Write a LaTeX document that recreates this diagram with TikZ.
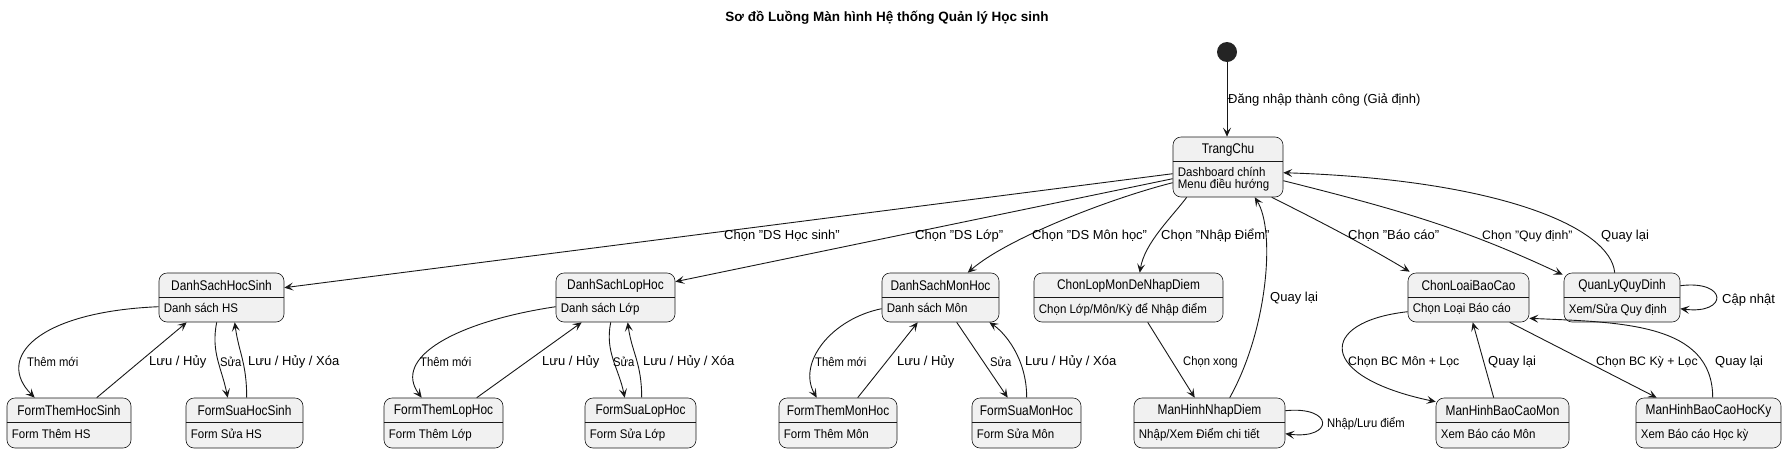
\documentclass[tikz,border=0pt]{standalone}
\usepackage{fontspec}
\setmainfont{Liberation Sans}
\usetikzlibrary{arrows.meta,calc}
\definecolor{stfill}{HTML}{F1F1F1}
\definecolor{stline}{HTML}{181818}
\tikzset{
  stbox/.style={draw=stline, line width=0.6pt, fill=stfill, rounded corners=8pt, inner sep=0pt},
  sepl/.style={draw=stline, line width=0.6pt},
  sttitle/.style={inner sep=0pt, font=\fontsize{14}{16}\selectfont},
  stbody/.style={inner sep=0pt, anchor=west, align=left, font=\fontsize{12.5}{13.4}\selectfont},
  conn/.style={draw=stline, line width=0.9pt, -{Stealth[length=9pt,width=8pt,inset=4pt]}},
  lbl/.style={inner sep=0pt, anchor=west, font=\fontsize{13}{15}\selectfont},
  lblm/.style={inner sep=0pt, anchor=west, font=\fontsize{12.3}{14}\selectfont},
  lbls/.style={inner sep=0pt, anchor=west, font=\fontsize{12.5}{14}\selectfont},
}
\newcommand{\mkstate}[7]{%
  \node[stbox, minimum width=#4pt, minimum height=#5pt] (#1) at (#2,#3) {};
  \draw[sepl] ($(#1.north west)+(0,25)$) -- ($(#1.north east)+(0,25)$);
  \node[sttitle] (#1-t) at ($(#1.north)+(0,13)$) {\scalebox{0.85}[1]{#6}};
  \node[stbody] (#1-b) at ($(#1.south west)+(5,{-(#5-25)/2})$) {\scalebox{0.92}[1]{\begin{tabular}{@{}l@{}}#7\end{tabular}}};
}
\newcommand{\cnd}[1]{\scalebox{0.9}[1]{#1}}
\begin{document}
\begin{tikzpicture}[x=1pt,y=-1pt]
\useasboundingbox (0,0) rectangle (1788,453);
\node[inner sep=0pt, font=\bfseries\fontsize{13.5}{15}\selectfont] (title) at (887,18) {Sơ đồ Luồng Màn hình Hệ thống Quản lý Học sinh};
\node[circle, fill=stline!95, minimum size=20pt, inner sep=0pt] (start) at (1227,52) {};
\mkstate{TC}{1228}{167}{110}{60}{TrangChu}{Dashboard chính\\[-1.2pt]Menu điều hướng}
\mkstate{DSHS}{221.5}{297.5}{125}{49}{DanhSachHocSinh}{Danh sách HS}
\mkstate{DSLH}{615.5}{297.5}{119}{49}{DanhSachLopHoc}{Danh sách Lớp}
\mkstate{DSMH}{940.5}{297.5}{117}{49}{DanhSachMonHoc}{Danh sách Môn}
\mkstate{CLMD}{1128.5}{297.5}{189}{49}{ChonLopMonDeNhapDiem}{Chọn Lớp/Môn/Kỳ để Nhập điểm}
\mkstate{CLBC}{1468.5}{297.5}{121}{49}{ChonLoaiBaoCao}{Chọn Loại Báo cáo}
\mkstate{QLQD}{1622}{297.5}{116}{49}{QuanLyQuyDinh}{Xem/Sửa Quy định}
\mkstate{FTHS}{69}{423}{124}{50}{FormThemHocSinh}{Form Thêm HS}
\mkstate{FSHS}{244.5}{423}{117}{50}{FormSuaHocSinh}{Form Sửa HS}
\mkstate{FTLH}{443.5}{423}{119}{50}{FormThemLopHoc}{Form Thêm Lớp}
\mkstate{FSLH}{640.5}{423}{111}{50}{FormSuaLopHoc}{Form Sửa Lớp}
\mkstate{FTMH}{838}{423}{118}{50}{FormThemMonHoc}{Form Thêm Môn}
\mkstate{FSMH}{1026.5}{423}{109}{50}{FormSuaMonHoc}{Form Sửa Môn}
\mkstate{MHND}{1209.5}{423}{151}{50}{ManHinhNhapDiem}{Nhập/Xem Điểm chi tiết}
\mkstate{MHBCM}{1502.5}{423}{133}{50}{ManHinhBaoCaoMon}{Xem Báo cáo Môn}
\mkstate{MHBCHK}{1708.5}{423}{145}{50}{ManHinhBaoCaoHocKy}{Xem Báo cáo Học kỳ}

% start
\draw[conn] (start) -- (start |- TC.north);
\node[lbl] (l0) at (1228,100) {Đăng nhập thành công (Giả định)};

% from TrangChu
\draw[conn] ($(TC.north west)+(0,37)$) -- ($(DSHS.north east)+(0,15)$);
\draw[conn] ($(TC.north west)+(0,42)$) -- ($(DSLH.north east)+(0,9)$);
\draw[conn] ($(TC.north west)+(0,46)$) .. controls ($(TC.north west)+(-60,61)$) and ($(DSMH.north west)+(126,-35)$) .. ($(DSMH.north west)+(86,0)$);
\draw[conn] ($(TC.south west)+(14,0)$) .. controls ($(TC.south west)+(-1,20)$) and ($(CLMD.north west)+(111,-30)$) .. ($(CLMD.north west)+(106,0)$);
\draw[conn] ($(TC.south west)+(99,0)$) .. controls ($(TC.south west)+(139,20)$) and ($(CLBC.north west)+(-48,-31)$) .. ($(CLBC.north west)+(2,-1)$);
\draw[conn] ($(TC.north east)+(0,44)$) .. controls ($(TC.north east)+(120,74)$) and ($(QLQD.north west)+(-97,-43)$) .. ($(QLQD.north west)+(-1,2)$);
\draw[conn] ($(QLQD.north west)+(51,0)$) .. controls ($(QLQD.north west)+(47,-45)$) and ($(TC.north east)+(217,43)$) .. ($(TC.north east)+(0,36)$);
\node[lbl] (l1) at (724,236) {Chọn "DS Học sinh"};
\node[lbl] (l2) at (915,236) {Chọn "DS Lớp"};
\node[lbl] (l3) at (1032,236) {Chọn "DS Môn học"};
\node[lbl] (l4) at (1161,236) {Chọn "Nhập Điểm"};
\node[lbl] (l5) at (1348,236) {Chọn "Báo cáo"};
\node[lblm] (l6) at (1482,236) {Chọn "Quy định"};
\node[lbl] (l7) at (1601,236) {Quay lại};

% Hoc sinh group
\draw[conn] ($(DSHS.north west)+(0,34)$) .. controls ($(DSHS.north west)+(-121,39)$) and ($(FTHS.north west)+(-12,-40)$) .. ($(FTHS.north west)+(28,0)$);
\draw[conn] ($(FTHS.north west)+(90,0)$) -- ($(DSHS.south west)+(28,0)$);
\draw[conn] ($(DSHS.south west)+(58,0)$) .. controls ($(DSHS.south west)+(52,30)$) and ($(FSHS.north west)+(36,-30)$) .. ($(FSHS.north west)+(42,0)$);
\draw[conn] ($(FSHS.north west)+(61,0)$) .. controls ($(FSHS.north west)+(61,-35)$) and ($(DSHS.south west)+(80,30)$) .. ($(DSHS.south west)+(76,0)$);
\node[lbls] (l8) at (27,362) {\cnd{Thêm mới}};
\node[lbl] (l9) at (149,362) {Lưu / Hủy};
\node[lbls] (l10) at (220,362) {\cnd{Sửa}};
\node[lbl] (l11) at (248,362) {Lưu / Hủy / Xóa};

% Lop hoc group
\draw[conn] ($(DSLH.north west)+(0,34)$) .. controls ($(DSLH.north west)+(-100,49)$) and ($(FTLH.north west)+(8,-40)$) .. ($(FTLH.north west)+(38,0)$);
\draw[conn] ($(FTLH.north west)+(93,0)$) -- ($(DSLH.south west)+(26,0)$);
\draw[conn] ($(DSLH.south west)+(55,0)$) .. controls ($(DSLH.south west)+(49,30)$) and ($(FSLH.north west)+(34,-30)$) .. ($(FSLH.north west)+(40,0)$);
\draw[conn] ($(FSLH.north west)+(57,0)$) .. controls ($(FSLH.north west)+(57,-35)$) and ($(DSLH.south west)+(76,30)$) .. ($(DSLH.south west)+(72,0)$);
\node[lbls] (l12) at (420,362) {\cnd{Thêm mới}};
\node[lbl] (l13) at (542,362) {Lưu / Hủy};
\node[lbls] (l14) at (613,362) {\cnd{Sửa}};
\node[lbl] (l15) at (643,362) {Lưu / Hủy / Xóa};

% Mon hoc group
\draw[conn] ($(DSMH.north west)+(0,36)$) .. controls ($(DSMH.north west)+(-50,46)$) and ($(FTMH.north west)+(18,-35)$) .. ($(FTMH.north west)+(38,0)$);
\draw[conn] ($(FTMH.north west)+(79,0)$) -- ($(DSMH.south west)+(36,0)$);
\draw[conn] ($(DSMH.south west)+(75,0)$) -- ($(FSMH.north west)+(36,0)$);
\draw[conn] ($(FSMH.north west)+(55,0)$) .. controls ($(FSMH.north west)+(55,-40)$) and ($(DSMH.south east)+(5,10)$) .. ($(DSMH.south east)+(-10,0)$);
\node[lbls] (l16) at (815,362) {\cnd{Thêm mới}};
\node[lbl] (l17) at (897,362) {Lưu / Hủy};
\node[lbls] (l18) at (990,362) {\cnd{Sửa}};
\node[lbl] (l19) at (1025,362) {Lưu / Hủy / Xóa};

% Nhap diem
\draw[conn] ($(CLMD.south west)+(114,0)$) -- ($(MHND.north west)+(61,0)$);
\draw[conn] ($(MHND.north west)+(96,0)$) .. controls ($(MHND.north west)+(134,-68)$) and ($(TC.south west)+(103,33)$) .. ($(TC.south west)+(82,0)$);
\draw[conn] ($(MHND.north east)+(0,13)$) .. controls ($(MHND.north east)+(49,8)$) and ($(MHND.north east)+(49,42)$) .. ($(MHND.north east)+(0,36)$);
\node[lbls] (l20) at (1183,362) {\cnd{Chọn xong}};
\node[lbl] (l21) at (1270,298.5) {Quay lại};
\node[lbls] (l22) at (1327,424) {\cnd{Nhập/Lưu điểm}};

% Bao cao
\draw[conn] ($(CLBC.north west)+(0,39)$) .. controls ($(CLBC.north west)+(-90,49)$) and ($(MHBCM.north west)+(-120,-21)$) .. ($(MHBCM.north west)+(0,4)$);
\draw[conn] ($(MHBCM.north west)+(58,0)$) -- ($(CLBC.south west)+(65,0)$);
\draw[conn] ($(CLBC.south west)+(102,0)$) -- ($(MHBCHK.north west)+(21,0)$);
\draw[conn] ($(MHBCHK.north west)+(77,0)$) .. controls ($(MHBCHK.north west)+(77,-75)$) and ($(CLBC.south east)+(91,0)$) .. ($(CLBC.south east)+(0,-4)$);
\node[lblm] (l23) at (1348,362) {Chọn BC Môn + Lọc};
\node[lbl] (l24) at (1488,362) {Quay lại};
\node[lblm] (l25) at (1596,362) {Chọn BC Kỳ + Lọc};
\node[lbl] (l26) at (1715,362) {Quay lại};

% Quy dinh loop
\draw[conn] ($(QLQD.north east)+(0,13)$) .. controls ($(QLQD.north east)+(48,7)$) and ($(QLQD.north east)+(48,42)$) .. ($(QLQD.north east)+(0,36)$);
\node[lbl] (l27) at (1722,300) {Cập nhật};
\end{tikzpicture}
\end{document}
